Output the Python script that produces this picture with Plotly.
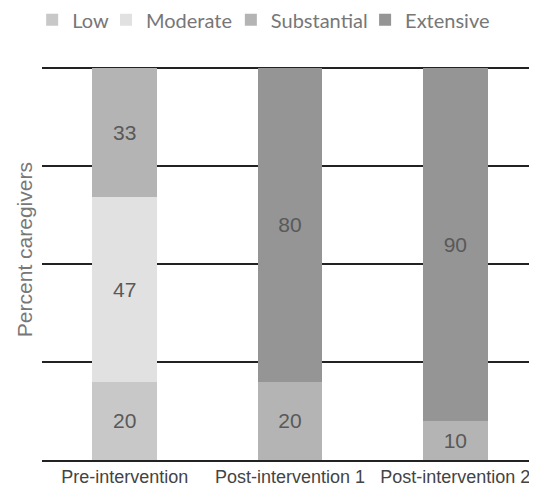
import plotly.graph_objects as go

categories = ["Pre-intervention", "Post-intervention 1", "Post-intervention 2"]
series_names = ["Low", "Moderate", "Substantial", "Extensive"]
low = [20, None, None]
moderate = [47, None, None]
substantial = [33, 20, 10]
extensive = [None, 80, 90]
colors = ["#c8c8c8", "#e1e1e1", "#b4b4b4", "#959595"]
legend_x = [0.045, 0.1825, 0.415, 0.665]

fig = go.Figure()
legend_ids = ["legend", "legend2", "legend3", "legend4"]
for name, vals, col, lid in zip(series_names, [low, moderate, substantial, extensive], colors, legend_ids):
    fig.add_trace(go.Bar(
        name=name, x=categories, y=vals, marker=dict(color=col, line=dict(width=0)),
        text=[str(v) if v is not None else "" for v in vals],
        textposition="inside", insidetextanchor="middle",
        textfont=dict(family="Liberation Sans, Arial", size=21, color="#595959"),
        hoverinfo="skip", legend=lid,
    ))

legend_common = dict(orientation="h", xref="container", yref="container", y=0.976,
                     xanchor="left", yanchor="middle", bgcolor="rgba(0,0,0,0)",
                     font=dict(family="Lato, Open Sans", size=20, color="#777777"),
                     itemwidth=30, itemclick=False)
legend_layout = {lid: dict(x=lx, **legend_common) for lid, lx in zip(legend_ids, legend_x)}

fig.update_layout(
    barmode="stack", bargap=0.61,
    width=537, height=491,
    margin=dict(l=34, r=7, t=58, b=39, autoexpand=False),
    plot_bgcolor="white", paper_bgcolor="white",
    showlegend=True,
    uniformtext=dict(mode=False),
    **legend_layout,
)
fig.add_annotation(text="Percent caregivers", xref="paper", yref="paper", x=-0.034, y=0.533,
                   xanchor="center", yanchor="middle", textangle=-90, showarrow=False,
                   font=dict(family="Liberation Sans, Arial", size=21, color="#777777"))
fig.update_yaxes(range=[0, 100.4], tickvals=[25, 50, 75, 100], showticklabels=False, showgrid=True,
                 gridcolor="#222222", gridwidth=1.5, zeroline=False)
fig.update_xaxes(showline=True, linecolor="#222222", linewidth=1.5, ticks="",
                 tickfont=dict(family="Liberation Sans, Arial", size=18, color="#444444"))

fig.write_html("out.html")
